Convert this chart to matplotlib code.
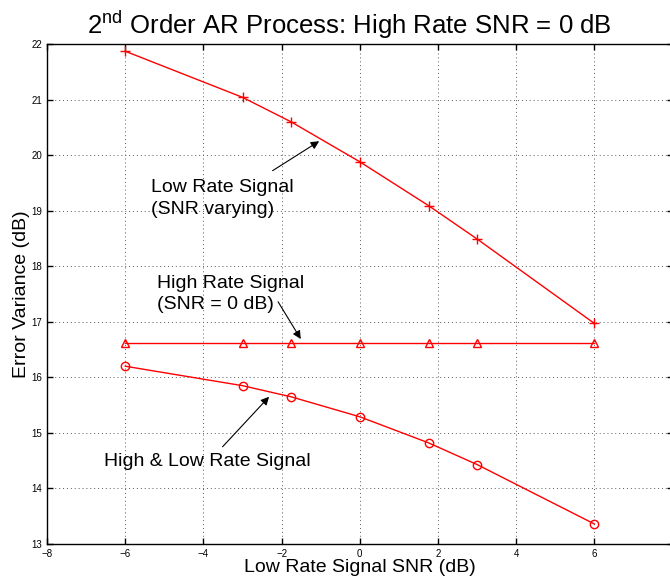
import numpy as np
import matplotlib
matplotlib.use('Agg')
import matplotlib.pyplot as plt

plt.rcParams['font.family'] = ['Liberation Sans', 'DejaVu Sans']
plt.rcParams['mathtext.fontset'] = 'custom'
plt.rcParams['mathtext.rm'] = 'Liberation Sans'

# Datos
snr_low = [-6, -3, -1.76, 0, 1.76, 3, 6]
err_low_rate = [21.87, 21.04, 20.60, 19.88, 19.09, 18.49, 16.97]
err_high_rate = [16.62, 16.62, 16.62, 16.62, 16.62, 16.62, 16.62]
err_both = [16.20, 15.85, 15.65, 15.29, 14.82, 14.43, 13.36]

x_ticks = [-8, -6, -4, -2, 0, 2, 4, 6, 8]
y_ticks = [13, 14, 15, 16, 17, 18, 19, 20, 21, 22]

fig = plt.figure(figsize=(6.7, 5.82), dpi=100)
ax = fig.add_axes([47 / 670, 1 - 544 / 582, 625.6 / 670, 500 / 582])

ax.plot(snr_low, err_low_rate, 'r-', marker='+', ms=7, mew=1, lw=1)
ax.plot(snr_low, err_high_rate, 'r-', marker='^', ms=6, mfc='none', mew=1, lw=1)
ax.plot(snr_low, err_both, 'r-', marker='o', ms=6, mfc='none', mew=1, lw=1)

ax.set_xlim(-8, 8)
ax.set_ylim(13, 22)
ax.set_xticks(x_ticks)
ax.set_yticks(y_ticks)
ax.set_xticklabels([str(t).replace('-', '\u2212') for t in x_ticks])
ax.tick_params(direction='in', top=True, right=True, labelsize=7, length=4, width=1)
ax.grid(True, linestyle=(0, (1, 3)), color='0.35', lw=0.7)
for s in ax.spines.values():
    s.set_linewidth(1)

ax.set_xlabel('Low Rate Signal SNR (dB)', fontsize=14, labelpad=0)
ax.set_ylabel('Error Variance (dB)', fontsize=14, labelpad=1)
fig.text(349 / 670, 1 - 34 / 582, r'2$^{\rm nd}$ Order AR Process: High Rate SNR = 0 dB',
         fontsize=18.5, ha='center', va='baseline')

arrow = dict(arrowstyle='-|>', color='k', lw=0.8, mutation_scale=12, shrinkA=0, shrinkB=0)
ax.annotate('', xy=(-1.04, 20.25), xytext=(-2.23, 19.72), arrowprops=arrow)
ax.text(-5.35, 19.22, 'Low Rate Signal\n(SNR varying)', fontsize=14, ha='left', va='center',
        linespacing=1.35)

ax.annotate('', xy=(-1.51, 16.69), xytext=(-2.09, 17.36), arrowprops=arrow)
ax.text(-5.19, 17.50, 'High Rate Signal\n(SNR = 0 dB)', fontsize=14, ha='left', va='center',
        linespacing=1.35)

ax.annotate('', xy=(-2.32, 15.65), xytext=(-3.51, 14.75), arrowprops=arrow)
ax.text(-6.55, 14.48, 'High & Low Rate Signal', fontsize=14, ha='left', va='center')

fig.savefig('out.png', dpi=100)
